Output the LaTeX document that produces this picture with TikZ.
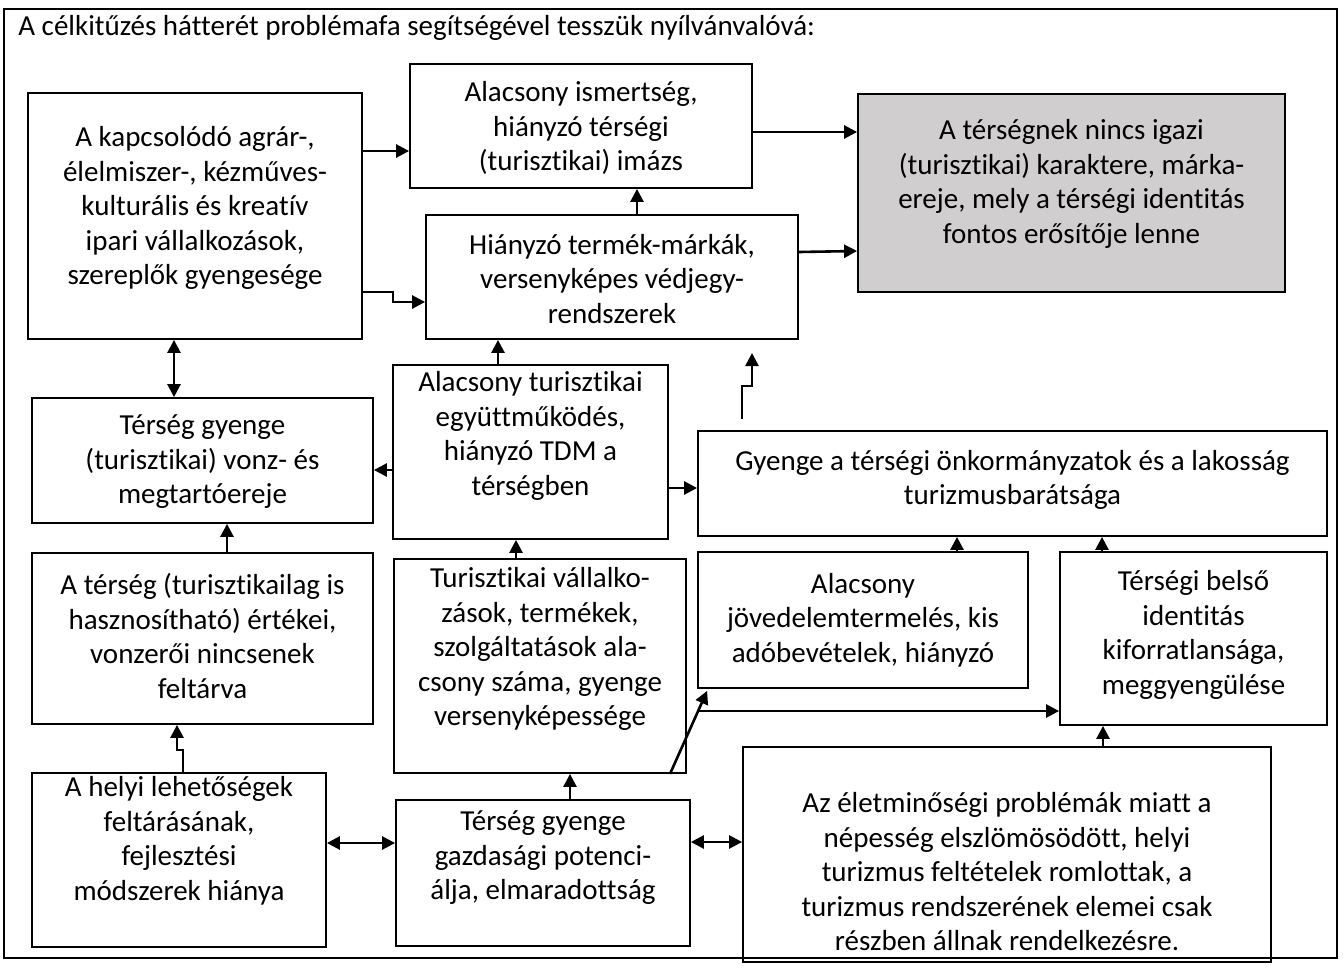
\documentclass[tikz,border=0pt]{standalone}
\usepackage{fontspec}
\setmainfont{Carlito}[Ligatures=NoCommon]
\usetikzlibrary{arrows.meta,fit}
\begin{document}
\begin{tikzpicture}[x=0.5pt,y=-0.5pt,
  box/.style={draw=black,line width=0.9pt,inner sep=0pt},
  graybox/.style={box,fill=grayfill},
  txt/.style={align=center,inner sep=0pt,font=\fontsize{14.5}{17.25}\selectfont},
  arr/.style={line width=1.3pt,-{Triangle[length=6.5pt,width=6.5pt]}},
  dbl/.style={line width=1.3pt,{Triangle[length=6.5pt,width=6.5pt]}-{Triangle[length=6.5pt,width=6.5pt]}}]
\definecolor{grayfill}{HTML}{D0CECE}
\useasboundingbox (0,0) rectangle (1344,969);
\draw[line width=0.9pt] (4,9) rectangle (1337,958);
\node[txt,anchor=west] (title) at (18,28) {A célkitűzés hátterét problémafa segítségével tesszük nyílvánvalóvá:};

% boxes
\node[box,fit={(410,64)(752,188)}] (ism) {};
\node[txt] (ism-t) at (581,128) {Alacsony ismertség,\\hiányzó térségi\\(turisztikai) imázs};
\node[box,fit={(426,215)(798,339)}] (term) {};
\node[txt] (term-t) at (612,279) {Hiányzó termék-márkák,\\versenyképes védjegy-\\rendszerek};
\node[graybox,fit={(858,94)(1285,292)}] (gray) {};
\node[txt] (gray-t) at (1071.5,184) {A térségnek nincs igazi\\(turisztikai) karaktere, márka-\\ereje, mely a térségi identitás\\fontos erősítője lenne};
\node[box,fit={(28,93)(362,339)}] (kapcs) {};
\node[txt] (kapcs-t) at (195,208) {A kapcsolódó agrár-,\\élelmiszer-, kézműves-\\kulturális és kreatív\\ipari vállalkozások,\\szereplők gyengesége};
\node[box,fit={(32,398)(373,523)}] (vonz) {};
\node[txt] (vonz-t) at (202.5,462) {Térség gyenge\\(turisztikai) vonz- és\\megtartóereje};
\node[box,fit={(393,365)(668,539)}] (tdm) {};
\node[txt] (tdm-t) at (530.5,436) {Alacsony turisztikai\\együttműködés,\\hiányzó TDM a\\térségben};
\node[box,fit={(698,431)(1327,536)}] (onk) {};
\node[txt] (onk-t) at (1012.5,480) {Gyenge a térségi önkormányzatok és a lakosság\\turizmusbarátsága};
\node[box,fit={(32,553)(373,724)}] (ertek) {};
\node[txt] (ertek-t) at (202.5,636) {A térség (turisztikailag is\\hasznosítható) értékei,\\vonzerői nincsenek\\feltárva};
\node[box,fit={(394,559)(686,773)}] (turv) {};
\node[txt] (turv-t) at (540,649) {Turisztikai vállalko-\\zások, termékek,\\szolgáltatások ala-\\csony száma, gyenge\\versenyképessége};
\node[box,fit={(698,552)(1028,688)}] (jov) {};
\node[txt] (jov-t) at (863,620) {Alacsony\\jövedelemtermelés, kis\\adóbevételek, hiányzó};
\node[box,fit={(1060,552)(1327,725)}] (ident) {};
\node[txt] (ident-t) at (1193.5,635) {Térségi belső\\identitás\\kiforratlansága,\\meggyengülése};
\node[box,fit={(32,773)(326,947)}] (helyi) {};
\node[txt] (helyi-t) at (179,841) {A helyi lehetőségek\\feltárásának,\\fejlesztési\\módszerek hiánya};
\node[box,fit={(396,800)(690,946)}] (gazd) {};
\node[txt] (gazd-t) at (543,858) {Térség gyenge\\gazdasági potenci-\\álja, elmaradottság};
\node[box,fit={(743,747)(1271,962)}] (elet) {};
\node[txt] (elet-t) at (1007,872) {Az életminőségi problémák miatt a\\népesség elszlömösödött, helyi\\turizmus feltételek romlottak, a\\turizmus rendszerének elemei csak\\részben állnak rendelkezésre.};

% connectors
\draw[arr] (kapcs.east |- 0,151) -- (ism.west |- 0,151);
\draw[arr] (kapcs.east |- 0,292) -- (393,292) -- (393,302) -- (term.west |- 0,302);
\draw[arr] (term.north -| 637,0) -- (ism.south -| 637,0);
\draw[arr] (ism.east |- 0,132) -- (gray.west |- 0,132);
\draw[arr] (term.east |- 0,252) -- (gray.west |- 0,251);
\draw[arr] (tdm.north -| 498,0) -- (term.south -| 498,0);
\draw[dbl] (kapcs.south -| 174,0) -- (vonz.north -| 174,0);
\draw[arr] (tdm.west |- 0,470) -- (vonz.east |- 0,470);
\draw[arr] (tdm.east |- 0,488) -- (onk.west |- 0,488);
\coordinate (j0) at (742,419);
\coordinate (j1) at (752,353);
\draw[arr] (j0) -- (742,386) -- (752,386) -- (j1);
\draw[arr] (turv.north -| 516,0) -- (tdm.south -| 516,0);
\draw[arr] (ertek.north -| 227,0) -- (vonz.south -| 227,0);
\draw[arr] (jov.north -| 957,0) -- (onk.south -| 957,0);
\draw[arr] (ident.north -| 1102,0) -- (onk.south -| 1102,0);
\draw[arr] (helyi.north -| 183,0) -- (183,750) -- (177,750) -- (ertek.south -| 177,0);
\draw[arr] (turv.south -| 670,0) -- ([xshift=5pt,yshift=-1pt]jov.south west);
\coordinate (q0) at (698,711);
\draw[arr] (q0) -- (ident.west |- 0,711);
\draw[arr] (elet.north -| 1103,0) -- (ident.south -| 1103,0);
\draw[dbl] (helyi.east |- 0,843) -- (gazd.west |- 0,843);
\draw[dbl] (gazd.east |- 0,842) -- (elet.west |- 0,842);
\draw[arr] (gazd.north -| 570,0) -- (turv.south -| 570,0);
\end{tikzpicture}
\end{document}
